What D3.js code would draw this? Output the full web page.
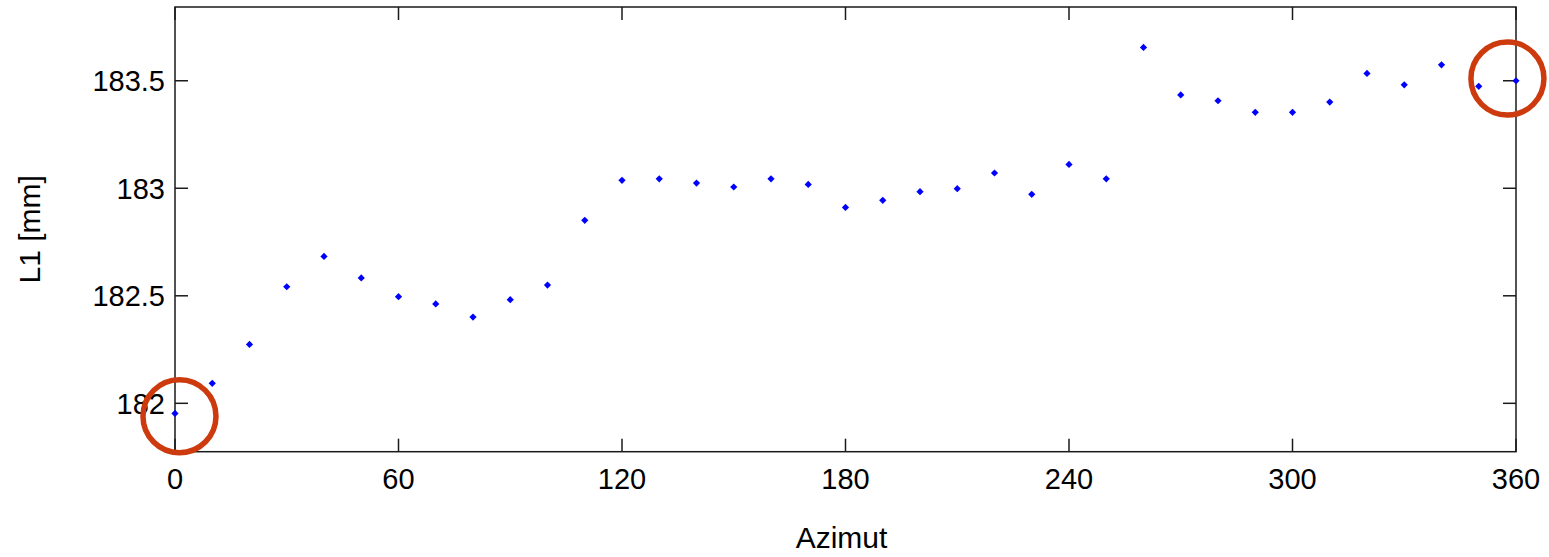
<!DOCTYPE html>
<html><head><meta charset="utf-8">
<script src="https://cdn.jsdelivr.net/npm/d3@7"></script>
<style>body{margin:0;background:#fff}svg{display:block}text{font-family:"Liberation Sans",Arial,sans-serif;fill:#000}</style>
</head><body><svg id="c" width="1549" height="557"></svg>
<script>
const azimuth = [0,10,20,30,40,50,60,70,80,90,100,110,120,130,140,150,160,170,180,190,200,210,220,230,240,250,260,270,280,290,300,310,320,330,340,350,360];
const l1 = [181.953,182.093,182.274,182.542,182.683,182.583,182.496,182.462,182.401,182.482,182.550,182.851,183.037,183.044,183.024,183.006,183.044,183.018,182.911,182.944,182.984,182.998,183.071,182.972,183.111,183.044,183.655,183.434,183.407,183.353,183.353,183.401,183.534,183.481,183.574,183.474,183.500];
const xTicks = [0,60,120,180,240,300,360];
const yTicks = [182,182.5,183,183.5];
const yTickLabels = ["182","182.5","183","183.5"];
const circleAz = [1.2,357.7];
const circleL1 = [181.94,183.51];

const svg = d3.select("#c");
const L=175,R=1516,T=7,B=451.7;
const x = d3.scaleLinear().domain([0,360]).range([L,R]);
const y = d3.scaleLinear().domain([181.775,183.843]).range([B,T]);
const ax = "#1a1a1a", tl = 13;

svg.append("rect").attr("x",L).attr("y",T).attr("width",R-L).attr("height",B-T)
  .attr("fill","none").attr("stroke",ax).attr("stroke-width",1.5);

const g = svg.append("g");
xTicks.forEach(t=>{
  g.append("line").attr("x1",x(t)).attr("x2",x(t)).attr("y1",B).attr("y2",B-tl).attr("stroke",ax).attr("stroke-width",1.5);
  g.append("line").attr("x1",x(t)).attr("x2",x(t)).attr("y1",T).attr("y2",T+tl).attr("stroke",ax).attr("stroke-width",1.5);
  g.append("text").attr("x",x(t)).attr("y",489).attr("text-anchor","middle").attr("font-size",29).text(t);
});
yTicks.forEach((t,i)=>{
  g.append("line").attr("x1",L).attr("x2",L+tl).attr("y1",y(t)).attr("y2",y(t)).attr("stroke",ax).attr("stroke-width",1.5);
  g.append("line").attr("x1",R).attr("x2",R-tl).attr("y1",y(t)).attr("y2",y(t)).attr("stroke",ax).attr("stroke-width",1.5);
  g.append("text").attr("x",L-10).attr("y",y(t)).attr("dy","0.36em").attr("text-anchor","end").attr("font-size",29).text(yTickLabels[i]);
});

svg.append("text").attr("x",(L+R)/2-4).attr("y",548).attr("text-anchor","middle").attr("font-size",30).text("Azimut");
svg.append("text").attr("transform",`translate(40,${(T+B)/2}) rotate(-90)`).attr("text-anchor","middle").attr("font-size",30).text("L1 [mm]");

const sym = d3.symbol().type(d3.symbolSquare).size(26);
svg.append("g").selectAll("path").data(azimuth).join("path")
  .attr("d",sym).attr("fill","#0000ff")
  .attr("transform",(d,i)=>`translate(${x(d)},${y(l1[i])}) rotate(45)`);

svg.append("g").selectAll("circle").data(circleAz).join("circle")
  .attr("cx",d=>x(d)).attr("cy",(d,i)=>y(circleL1[i])).attr("r",36.5)
  .attr("fill","none").attr("stroke","#cc3a0e").attr("stroke-width",5.5);
</script></body></html>
